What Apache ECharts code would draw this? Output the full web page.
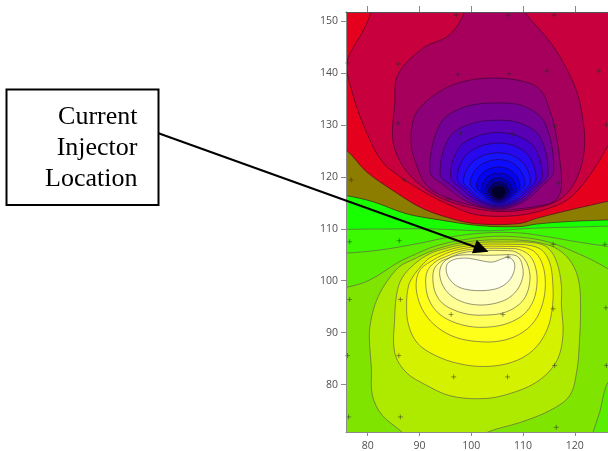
<!DOCTYPE html>
<html>
<head>
<meta charset="utf-8">
<script src="https://cdn.jsdelivr.net/npm/echarts@6.0.0/dist/echarts.min.js"></script>
<style>html,body{margin:0;padding:0;background:#fff;}#chart{width:608px;height:451px;}</style>
</head>
<body>
<div id="chart"></div>
<script>
// ---- axes ----
const xTicks = [80, 90, 100, 110, 120];
const yTicks = [80, 90, 100, 110, 120, 130, 140, 150];
const xExtent = [75.8, 126.4];
const yExtent = [70.9, 151.7];

// ---- open contour lines crossing the map (x, y) ----
const lineOliveGreen = [[71,116.6],[73.5,116.5],[75.7,116.4],[81.0,115.2],[87.4,112.9],[93.9,111.7],[101.6,110.6],[109.3,110.4],[112.6,110.9],[119.0,111.4],[126.4,111.7],[128.5,111.8],[131,111.9]];
const lineRedOlive = [[71,125.4],[73.5,125.3],[75.7,125.2],[79.7,121.0],[84.2,117.8],[90.6,113.9],[97.1,111.7],[101.6,110.9],[109.3,111.0],[112.6,112.0],[119.0,113.6],[126.4,115.3],[128.5,115.8],[131,116.3]];
const lineCrimsonRed = [[81.3,156],[81.0,153.5],[80.7,151.7],[79.0,147.9],[77.1,144.7],[75.9,141.5],[76.8,137.0],[78.4,131.9],[80.3,127.4],[81.9,124.2],[84.2,121.5],[90.6,117.2],[97.1,114.0],[101.6,112.6],[109.3,112.6],[115.7,114.2],[119.0,115.9],[121.9,119.0],[124.8,123.2],[126.4,126.1],[127.6,128.4],[129,131]];
const lineG1 = [[71,109.9],[73.5,109.9],[75.7,109.9],[83.0,109.95],[91.3,110.0],[99.0,109.7],[103.5,109.6],[111.9,110.1],[119.0,110.3],[126.4,110.5],[128.5,110.5],[131,110.5]];
const lineG2 = [[71,105.3],[73.5,105.3],[75.7,105.3],[82.3,105.9],[90.0,107.2],[95.8,108.4],[102.6,109.2],[109.3,109.2],[115.1,108.4],[120.9,107.4],[126.4,106.6],[128.5,106.3],[131,106.0]];
const lineG3 = [[71,98.7],[73.5,98.7],[75.7,98.7],[80.3,100.1],[86.0,103.6],[89,105.0],[92,106.3],[95,107.2],[98,107.8],[103.5,108.5],[109.3,108.4],[115.1,107.4],[120.9,105.1],[124.8,103.2],[127.1,101.6],[128.7,98.2],[129.1,88.5],[127.9,82.3],[126.1,79.9],[124.8,74.7],[123.5,70.8],[123.0,68],[122.6,65]];
const lineB1 = [[90,66],[88.5,68.5],[86.7,70.8],[82.8,74.1],[80.9,77.9],[80.7,83.1],[80.3,89.5],[80.7,92.8],[81.7,96.2],[83.2,99.1],[86,102.6],[89,104.2],[92,105.6],[95,106.6],[98,107.3],[102.6,107.8],[109.3,107.8],[113.6,107.2],[116.8,106.0],[119.4,103.4],[120.8,99.7],[121.1,94.3],[120.9,88.5],[120.4,82.8],[119.0,77.9],[115.1,75.0],[109.3,72.7],[103.0,70.8],[100.5,68.8],[98.5,67]];

// ---- closed contour rings: upper (negative) pole ----
const ringDome = [[98.3,156],[98.5,153.5],[98.7,151.7],[95.8,147.3],[90.6,144.7],[85.8,139.6],[85.2,133.8],[84.8,127.4],[86.1,123.2],[89.0,119.4],[93.9,116.0],[99.7,114.1],[105.5,113.3],[111.3,113.8],[116.1,115.1],[119.0,117.4],[121.0,121.3],[121.9,126.1],[121.5,131.3],[120.4,136.3],[117.7,142.1],[114.6,146.7],[110.3,151.7],[109.8,153.5],[109.4,156]];
const ringB = [[104.8,139.0],[111.3,138.0],[113.8,136.1],[115.1,132.9],[116.1,129.6],[117.1,123.2],[117.4,118.1],[116.4,115.6],[113.2,114.4],[105.3,113.6],[100.6,114.4],[95.4,115.9],[91.5,118.2],[89.5,122.0],[88.4,126.1],[88.7,130.6],[90.0,133.2],[93.9,136.4],[98.4,138.3]];
const ring2 = [[105.3,134.2],[110.6,133.4],[114.3,130.2],[115.9,121.0],[113.8,118.4],[110.1,115.2],[105.3,113.8],[99.3,115.2],[94.7,118.4],[92.0,121.0],[94.0,130.2],[98.65,133.4]];
const ring3 = [[105.3,130.9],[110.05,130.1],[113.4,127.5],[114.8,120.5],[112.9,118.2],[109.6,115.3],[105.3,114.0],[100.2,115.3],[96.3,118.2],[94.0,120.5],[95.7,127.5],[99.65,130.1]];
const ring4 = [[105.3,128.5],[109.5,127.65],[112.4,125.3],[113.7,120.0],[112.0,117.9],[109.1,115.4],[105.3,114.2],[101.1,115.4],[97.9,117.9],[96.0,120.0],[97.4,125.3],[100.65,127.65]];
const ring5 = [[105.3,126.5],[108.9,125.7],[111.4,123.6],[112.5,119.5],[111.1,117.7],[108.5,115.4],[105.3,114.4],[101.7,115.4],[98.9,117.7],[97.3,119.5],[98.5,123.6],[101.3,125.7]];
const ring6 = [[105.3,124.6],[108.35,123.9],[110.5,122.0],[111.4,119.0],[110.2,117.4],[108.05,115.5],[105.3,114.6],[102.2,115.5],[99.9,117.4],[98.5,119.0],[99.5,122.0],[101.9,123.9]];
const ring7 = [[105.3,123.3],[107.85,122.7],[109.6,121.1],[110.4,118.6],[109.4,117.2],[107.6,115.6],[105.3,114.8],[102.8,115.6],[100.9,117.2],[99.8,118.6],[100.6,121.1],[102.55,122.7]];
const ring8 = [[105.3,121.9],[107.35,121.4],[108.8,120.1],[109.4,118.0],[108.6,116.9],[107.1,115.6],[105.3,115.0],[103.4,115.6],[101.9,116.9],[101.0,118.0],[101.6,120.1],[103.15,121.4]];
const ring9 = [[105.3,120.7],[107.0,120.3],[108.2,119.2],[108.7,117.5],[108.0,116.7],[106.8,115.7],[105.3,115.2],[103.8,115.7],[102.6,116.7],[101.9,117.5],[102.4,119.2],[103.6,120.3]];
const ring10 = [[105.3,119.8],[106.6,119.45],[107.5,118.6],[107.9,117.2],[107.4,116.5],[106.5,115.7],[105.3,115.35],[104.1,115.7],[103.2,116.5],[102.7,117.2],[103.1,118.6],[104.0,119.45]];
const ring11 = [[105.3,119.0],[106.3,118.75],[107.0,118.1],[107.3,117.1],[106.9,116.5],[106.2,115.8],[105.3,115.5],[104.4,115.8],[103.7,116.5],[103.3,117.1],[103.6,118.1],[104.3,118.75]];
const ringCore = [[105.3,118.2],[106.3,117.95],[106.6,117.0],[106.3,116.2],[105.3,115.75],[104.3,116.2],[104.0,117.0],[104.3,117.95]];

// ---- closed contour rings: lower (positive) pole ----
const ringB2 = [[85.2,92.8],[85.2,86.2],[87.4,82.4],[91.3,79.9],[95.8,77.9],[101.2,77.3],[106.1,77.9],[112.6,80.5],[116.4,84.4],[117.7,89.5],[117.4,95.3],[117.4,99.1],[116.5,103.6],[114.8,106.3],[112.2,107.3],[106,107.45],[102,107.4],[98,106.9],[95,106.2],[92,105.2],[89,103.2],[86.6,100.5],[85.6,97.5]];
const ringK6 = [[102,107.0],[108,107.0],[111.3,106.8],[113.6,105.9],[115.1,103.6],[115.7,100.1],[115.7,95.3],[114.6,90.5],[111.9,86.6],[107.8,84.3],[102.6,83.5],[97.4,84.1],[92.9,85.7],[89.6,88.0],[87.9,91.4],[87.5,95.3],[87.9,99.1],[89,101.2],[90.5,103.0],[92,104.4],[95,105.7],[98,106.5]];
const ringK5 = [[102,106.6],[107,106.6],[110.3,106.4],[112.4,105.4],[113.8,103.0],[114.3,99.5],[113.8,95.7],[112.2,92.2],[109.3,89.7],[105.5,88.4],[101.2,88.3],[97.0,89.1],[93.5,91.0],[91.0,93.7],[89.6,97.0],[89.4,100.1],[90.2,102.2],[92,103.6],[95,105.2],[98,106.1]];
const ringK4 = [[102,106.2],[107,106.2],[109.3,106.0],[111.3,104.8],[112.4,102.6],[112.7,99.7],[112.0,96.2],[110.1,93.5],[107.0,91.8],[103.5,91.1],[99.7,91.2],[96.2,92.2],[93.5,93.9],[91.8,96.4],[91.2,99.3],[91.5,101.8],[93,103.6],[95,104.6],[98,105.7]];
const ringK3 = [[102,105.8],[106.5,105.8],[108.4,105.6],[110.1,104.4],[111.1,102.4],[111.3,99.9],[110.5,97.0],[108.8,95.1],[106.1,93.8],[103.0,93.4],[99.7,93.5],[96.8,94.3],[94.4,95.7],[93.1,97.6],[92.6,99.9],[92.8,102.2],[94,103.6],[95.5,104.3],[98,105.3]];
const ringK2 = [[99.7,105.0],[102.8,104.9],[105.5,104.95],[107.8,105.0],[109.0,104.6],[109.7,103.5],[110.0,101.1],[109.1,98.6],[107.4,96.8],[105.5,95.9],[103.2,95.4],[100.6,95.4],[98.1,96.0],[96.0,97.2],[94.6,98.9],[93.9,101.1],[94.2,102.9],[95.3,104.1],[97,104.8]];
const ringW = [[97.7,104.3],[96.2,103.9],[95.3,103.1],[95.2,101.7],[95.8,100.3],[97.0,99.1],[98.7,98.4],[101.0,98.1],[103.5,98.2],[105.5,98.7],[107.0,99.7],[108.0,101.1],[108.4,102.8],[108.0,104.0],[107.0,104.5],[105.9,104.2],[104.1,103.6],[102.2,103.8],[99.7,104.3]];

// ---- sample points (+) ----
const samplePoints = [
  [97.1,151.1],[107.1,151.1],[116.0,151.1],
  [76.1,141.9],[85.9,141.7],[97.4,139.7],[107.3,139.8],[114.6,140.4],[124.6,140.4],
  [85.9,130.3],[97.9,128.4],[108.0,128.2],[116.1,129.8],[126.1,130.0],
  [76.8,119.4],[87.0,119.4],[95.5,115.8],[116.9,118.8],
  [76.5,107.5],[86.1,107.7],[115.8,107.0],[125.8,107.0],[107.1,104.6],
  [76.5,96.4],[86.3,96.4],[96.1,93.5],[106.1,93.5],[115.8,94.6],[126.0,94.8],
  [76.1,85.6],[86.0,85.6],[96.6,81.5],[107.0,81.5],[116.1,83.7],[126.1,83.7],
  [76.3,73.8],[86.3,73.8],[116.4,71.8]
];

// ---- build filled layers (painter's order) ----
const FAR_TOP = [[140,175],[60,175]];
const FAR_BOTTOM = [[140,50],[60,50]];
const FULL = [[60,50],[140,50],[140,175],[60,175]];
const topStroke = 'rgba(40,0,40,0.6)';
const botStroke = 'rgba(95,95,75,0.75)';
const layers = [
  {pts: FULL, color: '#18ff00', stroke: 'none'},
  {pts: lineOliveGreen.concat(FAR_TOP), color: '#8c7d00', stroke: topStroke},
  {pts: lineRedOlive.concat(FAR_TOP), color: '#e5001e', stroke: topStroke},
  {pts: lineCrimsonRed.concat(FAR_TOP), color: '#c9003e', stroke: topStroke},
  {pts: ringDome, color: '#a6005c', stroke: topStroke},
  {pts: ringB, color: '#8e0078', stroke: topStroke},
  {pts: ring2, color: '#740096', stroke: topStroke},
  {pts: ring3, color: '#5a00b4', stroke: topStroke},
  {pts: ring4, color: '#4000d0', stroke: topStroke},
  {pts: ring5, color: '#2808ec', stroke: topStroke},
  {pts: ring6, color: '#1614ff', stroke: topStroke},
  {pts: ring7, color: '#0c0cff', stroke: topStroke},
  {pts: ring8, color: '#0404ee', stroke: topStroke},
  {pts: ring9, color: '#0000d2', stroke: topStroke},
  {pts: ring10, color: '#0000a8', stroke: topStroke},
  {pts: ring11, color: '#00006a', stroke: topStroke},
  {pts: ringCore, color: '#000028', stroke: topStroke},
  {pts: lineG1.concat(FAR_BOTTOM), color: '#3cf800', stroke: botStroke},
  {pts: lineG2.concat(FAR_BOTTOM), color: '#5cee00', stroke: botStroke},
  {pts: lineG3.concat(FAR_BOTTOM), color: '#7ee400', stroke: botStroke},
  {pts: lineB1, color: '#aeea00', stroke: botStroke},
  {pts: ringB2, color: '#d4f200', stroke: botStroke},
  {pts: ringK6, color: '#f6fa00', stroke: botStroke},
  {pts: ringK5, color: '#ffff1c', stroke: botStroke},
  {pts: ringK4, color: '#ffff5c', stroke: botStroke},
  {pts: ringK3, color: '#ffff94', stroke: botStroke},
  {pts: ringK2, color: '#ffffc2', stroke: botStroke},
  {pts: ringW, color: '#fffff0', stroke: botStroke}
];

const chart = echarts.init(document.getElementById('chart'), null, {renderer: 'canvas'});
const axisColor = '#8a8a8a';
const labelStyle = {color: '#505050', fontSize: 10.5, fontFamily: 'Open Sans'};
chart.setOption({
  animation: false,
  backgroundColor: '#ffffff',
  grid: {left: 346, top: 12, width: 262, height: 420, containLabel: false, outerBoundsMode: 'none'},
  xAxis: [
    {type: 'value', position: 'bottom', min: xExtent[0], max: xExtent[1], z: 10,
     axisLine: {show: true, onZero: false, lineStyle: {color: axisColor, width: 1}},
     axisTick: {show: true, length: 4, customValues: xTicks, lineStyle: {color: axisColor}},
     axisLabel: Object.assign({customValues: xTicks, margin: 9}, labelStyle),
     splitLine: {show: false}},
    {type: 'value', position: 'top', min: xExtent[0], max: xExtent[1], z: 10,
     axisLine: {show: true, onZero: false, lineStyle: {color: '#555', width: 1}},
     axisTick: {show: true, length: 6, customValues: xTicks, lineStyle: {color: axisColor}},
     axisLabel: {show: false}, splitLine: {show: false}}
  ],
  yAxis: [
    {type: 'value', min: yExtent[0], max: yExtent[1], z: 10,
     axisLine: {show: true, onZero: false, lineStyle: {color: axisColor, width: 1}},
     axisTick: {show: true, length: 5, customValues: yTicks, lineStyle: {color: axisColor}},
     axisLabel: Object.assign({customValues: yTicks, margin: 8}, labelStyle),
     splitLine: {show: false}}
  ],
  series: [
    {type: 'custom', coordinateSystem: 'cartesian2d', clip: true, silent: true, z: 1,
     data: layers.map((l, i) => [l.pts[0][0], l.pts[0][1], i]),
     encode: {x: 0, y: 1},
     renderItem: function (params, api) {
       const l = layers[params.dataIndex];
       return {
         type: 'polygon',
         shape: {points: l.pts.map(p => api.coord(p)), smooth: 0.35},
         style: {fill: l.color, stroke: l.stroke, lineWidth: l.stroke === 'none' ? 0 : 0.9}
       };
     }},
    {type: 'scatter', z: 3, silent: true, clip: true,
     symbol: 'path://M0,5L10,5M5,0L5,10', symbolSize: 5,
     itemStyle: {color: 'rgba(0,0,0,0)', borderColor: 'rgba(40,40,40,0.75)', borderWidth: 0.8},
     data: samplePoints}
  ],
  graphic: [
    {type: 'rect', z: 100, shape: {x: 6.5, y: 89.5, width: 152, height: 115.5},
     style: {fill: '#ffffff', stroke: '#000000', lineWidth: 2}},
    {type: 'text', z: 101, style: {text: 'Current', x: 137.5, y: 117.5, textAlign: 'right', textVerticalAlign: 'middle', font: '26px "Liberation Serif"', fill: '#000'}},
    {type: 'text', z: 101, style: {text: 'Injector', x: 137.5, y: 148.3, textAlign: 'right', textVerticalAlign: 'middle', font: '26px "Liberation Serif"', fill: '#000'}},
    {type: 'text', z: 101, style: {text: 'Location', x: 137.5, y: 179.2, textAlign: 'right', textVerticalAlign: 'middle', font: '26px "Liberation Serif"', fill: '#000'}},
    {type: 'line', z: 101, shape: {x1: 158.5, y1: 133.2, x2: 476, y2: 247.2}, style: {stroke: '#000', lineWidth: 2}},
    {type: 'polygon', z: 101, shape: {points: [[488.5, 251.7], [472.0, 253.2], [476.8, 240.0]]}, style: {fill: '#000'}}
  ]
});
</script>
</body>
</html>
